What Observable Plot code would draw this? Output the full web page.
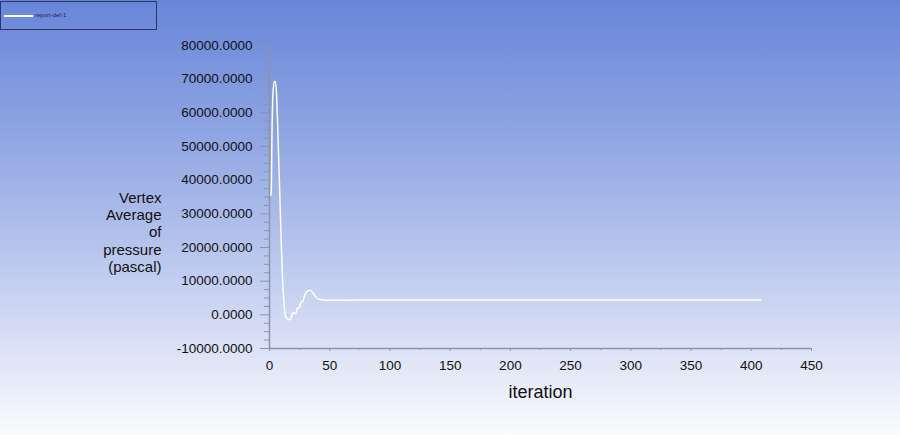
<!DOCTYPE html>
<html>
<head>
<meta charset="utf-8">
<script src="https://cdn.jsdelivr.net/npm/d3@7"></script>
<script src="https://cdn.jsdelivr.net/npm/@observablehq/plot@0.6"></script>
<style>
  html, body { margin: 0; padding: 0; }
  body {
    width: 900px; height: 435px; position: relative; overflow: hidden;
    background: linear-gradient(to bottom, #6886d9 0%, #8ea4e2 30%, #b3c2ec 55%, #d8dff5 78%, #fafbfd 100%);
    font-family: "Liberation Sans", Arial, sans-serif;
  }
  #legend {
    position: absolute; left: 0; top: 1px; width: 155px; height: 27px;
    border: 1px solid #2b3663; box-sizing: content-box;
  }
  #legend .swatch { position: absolute; left: 3px; top: 13px; width: 29px; height: 2px; background: #ffffff; }
  #legend .label { position: absolute; left: 34px; top: 10px; font-size: 6px; color: #1c2452; white-space: nowrap; }
  #chart { position: absolute; left: 0; top: 0; }
</style>
</head>
<body>
<div id="chart"></div>
<div id="legend"><div class="swatch"></div><div class="label">report-def-1</div></div>
<script>
const seriesName = "report-def-1";
const iterations = [1, 1.5, 2, 3, 4, 5, 6, 7, 8, 9, 10, 11, 12, 13, 14, 15, 16, 17, 18, 19, 20, 21, 22, 23, 24, 25, 26, 27, 28, 29, 30, 31, 32, 33, 34, 35, 36, 37, 38, 39, 40, 42, 45, 50, 60, 80, 120, 200, 300, 408];
const pressure = [35500, 37000, 52000, 66500, 69300, 69300, 64500, 54000, 42000, 30500, 19000, 9500, 3500, 0, -900, -1200, -1400, -1500, -1100, 500, 600, 400, 500, 1900, 2100, 2200, 3600, 3900, 4200, 5600, 6400, 6900, 7200, 7300, 7200, 7000, 6600, 6000, 5500, 5100, 4800, 4550, 4400, 4300, 4350, 4400, 4400, 4400, 4400, 4400];
const xTicks = [0, 50, 100, 150, 200, 250, 300, 350, 400, 450];
const xMinorTicks = [25, 75, 125, 175, 225, 275, 325, 375, 425];
const yTicks = [-10000, 0, 10000, 20000, 30000, 40000, 50000, 60000, 70000, 80000];
const yMinorTicks = [-7500, -5000, -2500, 2500, 5000, 7500, 12500, 15000, 17500, 22500, 25000, 27500, 32500, 35000, 37500, 42500, 45000, 47500, 52500, 55000, 57500, 62500, 65000, 67500, 72500, 75000, 77500];
const xLabel = "iteration";
const yLabel = "Vertex\nAverage\nof\npressure\n(pascal)";

const data = iterations.map((it, i) => ({iteration: it, value: pressure[i]}));
const axisColor = "#8a95ad";

const chart = Plot.plot({
  width: 900,
  height: 435,
  marginLeft: 269,
  marginRight: 89,
  marginTop: 45,
  marginBottom: 87,
  style: {background: "transparent", fontFamily: "'Liberation Sans', Arial, sans-serif", color: "#111"},
  x: {type: "linear", domain: [0, 450]},
  y: {type: "linear", domain: [-10000, 80000]},
  marks: [
    Plot.ruleX([0], {stroke: axisColor, strokeWidth: 1.5}),
    Plot.ruleY([-10000], {stroke: axisColor, strokeWidth: 1.5}),
    Plot.axisY(yMinorTicks, {tickSize: 5, stroke: axisColor, text: null, label: null}),
    Plot.axisY(yTicks, {tickSize: 9, stroke: axisColor, tickPadding: 8, tickFormat: d => d.toFixed(4), fontSize: 13.5, fill: "#111", label: null}),
    Plot.axisX(xMinorTicks, {tickSize: 2, stroke: axisColor, text: null, label: null}),
    Plot.axisX(xTicks, {tickSize: 3, stroke: axisColor, tickPadding: 9, fontSize: 13.5, fill: "#111", label: null, tickFormat: d => String(d)}),
    Plot.line(data, {x: "iteration", y: "value", stroke: "#ffffff", strokeWidth: 1.5, curve: "monotone-x"}),
    Plot.text([xLabel], {frameAnchor: "bottom", dy: 49, fontSize: 18, fill: "#111"}),
    Plot.text([yLabel], {frameAnchor: "left", dx: -108, dy: 35, textAnchor: "end", fontSize: 15, lineHeight: 1.14, fill: "#111"})
  ]
});
document.getElementById("chart").append(chart);
</script>
</body>
</html>
